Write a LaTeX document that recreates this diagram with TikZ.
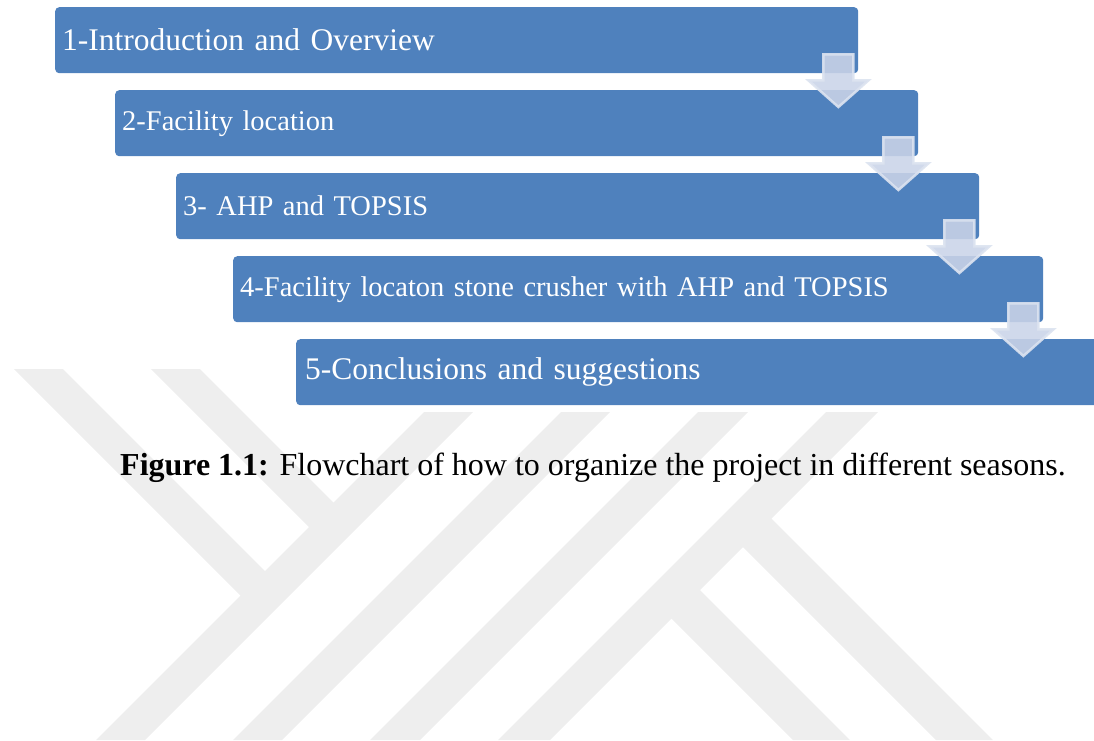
\documentclass[tikz,border=0pt]{standalone}
\usepackage{fontspec}
\setmainfont{Liberation Serif}
\usepackage{tikz}
\usetikzlibrary{calc}
\definecolor{boxblue}{HTML}{4F81BD}
\definecolor{arrowblue}{HTML}{CAD4E8}
\definecolor{arrowedge}{HTML}{DCE3F0}
\definecolor{wmgray}{HTML}{EEEEEE}
\newcommand{\BOXFONT}{\fontsize{28.5pt}{34pt}\selectfont}
\newcommand{\BIGFONT}{\fontsize{31.5pt}{38pt}\selectfont}
\newcommand{\CAPFONT}{\fontsize{32pt}{38pt}\selectfont}
\tikzset{
  flowbox/.style={rectangle, rounded corners=4pt, fill=boxblue, text=white,
    minimum height=66pt, inner xsep=7pt, inner ysep=0pt, align=left,
    anchor=north west},
  downarrow/.style={fill=arrowblue, fill opacity=0.88, draw=arrowedge,
    draw opacity=0.9, line width=2.5pt, line join=miter},
  band/.style={fill=wmgray, draw=none}
}

\begin{document}
\begin{tikzpicture}[x=1pt, y=-1pt]

  \useasboundingbox (0,0) rectangle (1094,740);
  \clip (0,0) rectangle (1094,740);

  % watermark
  \begin{scope}
    \clip (0,369) -- (296,369) -- (296,412) -- (1094,412)
      -- (1094,740) -- (0,740) -- cycle;
    \fill[band] (5,360) -- (54,360) -- (272,578) -- (247.5,602.5) -- cycle;
    \fill[band] (142,360) -- (191,360) -- (340.5,509.5) -- (316,534) -- cycle;
    \fill[band] (436,400) -- (485,400) -- (125,760) -- (76,760) -- cycle;
    \fill[band] (573,400) -- (622,400) -- (262,760) -- (213,760) -- cycle;
    \fill[band] (710,400) -- (760,400) -- (400,760) -- (350,760) -- cycle;
    \fill[band] (838,400) -- (890,400) -- (530,760) -- (478,760) -- cycle;
    \fill[band] (735.5,539.5) -- (764,511) -- (1013,760) -- (956,760) -- cycle;
    \fill[band] (664,611) -- (692.5,582.5) -- (870,760) -- (813,760) -- cycle;
  \end{scope}

  \node[flowbox, text width=789pt, font=\BIGFONT] (box1) at (55,7)
    {1-Introduction and Overview};
  \node[flowbox, text width=789pt, font=\BOXFONT] (box2) at (115,90)
    {2-Facility location};
  \node[flowbox, text width=789pt, font=\BOXFONT] (box3) at (176,173)
    {3- AHP and TOPSIS};
  \node[flowbox, text width=796pt, font=\BOXFONT] (box4) at (233,256)
    {4-Facility locaton stone crusher with AHP and TOPSIS};
  \node[flowbox, text width=796pt, inner xsep=9pt, font=\BIGFONT] (box5) at (296,339)
    {5-Conclusions and suggestions};

  \foreach \i/\j in {1/2,2/3,3/4,4/5}{
    \path (box\i.south east) ++(-20,0) coordinate (a\i);
    \path (a\i |- box\j.north) ++(0,17) coordinate (b\i);
    \draw[downarrow] (a\i) ++(-15,-19) -- ++(30,0) -- ++(0,26) -- ++(15,0)
      -- (b\i) -- ($(a\i)+(-30,7)$) -- ++(15,0) -- cycle;
  }

  \node[anchor=base west, inner sep=0pt, font=\CAPFONT] (caption) at (120,475)
    {\textbf{Figure 1.1:} Flowchart of how to organize the project in different seasons.};

\end{tikzpicture}
\end{document}
